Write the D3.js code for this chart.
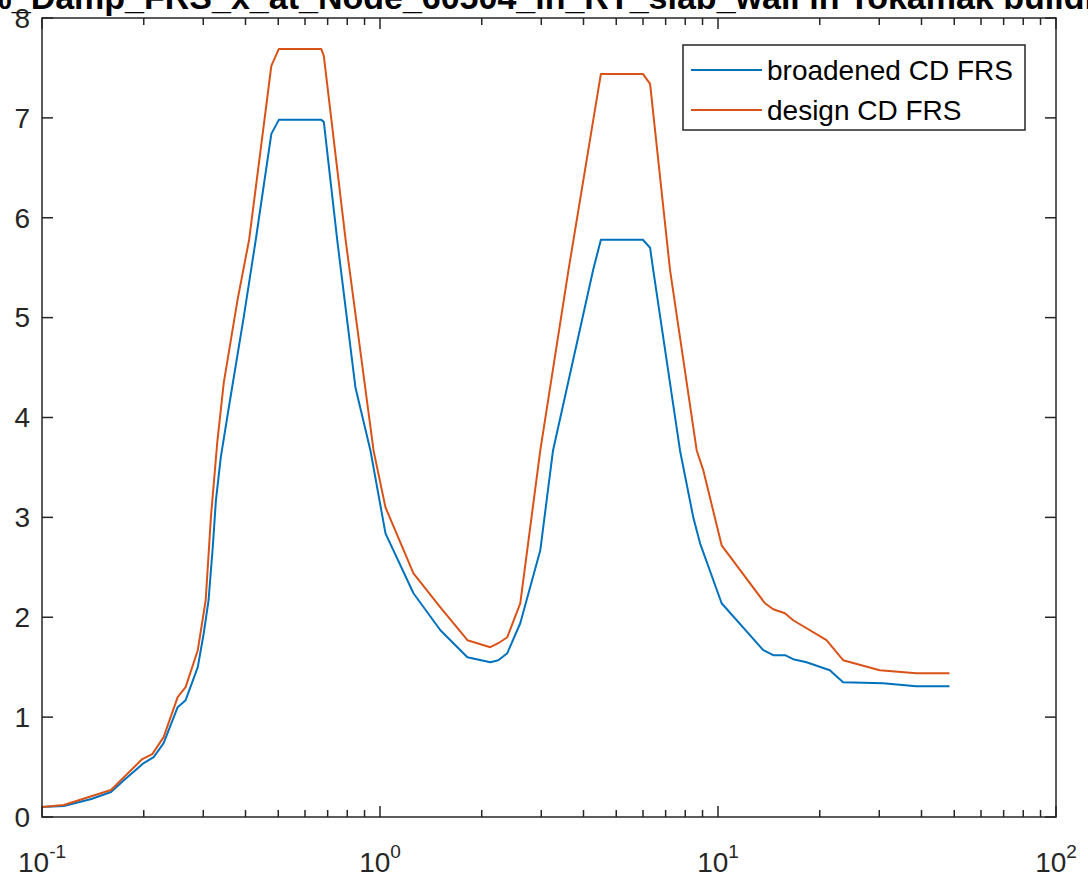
<!DOCTYPE html>
<html>
<head>
<meta charset="utf-8">
<script src="https://cdn.jsdelivr.net/npm/d3@7"></script>
<style>
  html, body { margin: 0; padding: 0; background: #fff; }
  svg { display: block; font-family: "Liberation Sans", Arial, Helvetica, sans-serif; }
</style>
</head>
<body>
<svg id="chart" width="1088" height="881"></svg>
<script>
// ---------- data ----------
const titleText = "5%_Damp_FRS_x_at_Node_60504_in_RT_slab_wall in Tokamak building";
const seriesNames = ["broadened CD FRS", "design CD FRS"];
const seriesColors = ["#0072BD", "#D95319"];

const freqBroadened = [0.100, 0.116, 0.140, 0.160, 0.175, 0.200, 0.214, 0.229, 0.252, 0.266, 0.289, 0.301, 0.311, 0.320, 0.327, 0.338, 0.357, 0.395, 0.429, 0.477, 0.502, 0.670, 0.682, 0.747, 0.846, 0.937, 1.038, 1.256, 1.509, 1.814, 2.120, 2.239, 2.380, 2.600, 2.980, 3.250, 4.273, 4.503, 5.994, 6.296, 6.430, 7.720, 8.450, 8.850, 10.25, 13.61, 14.57, 15.78, 16.69, 18.28, 21.42, 23.45, 30.77, 38.6, 48.4];
const valBroadened  = [0.10, 0.11, 0.18, 0.25, 0.37, 0.54, 0.60, 0.74, 1.10, 1.17, 1.50, 1.84, 2.17, 2.70, 3.17, 3.60, 4.10, 5.00, 5.78, 6.84, 6.98, 6.98, 6.96, 5.78, 4.30, 3.67, 2.84, 2.24, 1.87, 1.60, 1.55, 1.57, 1.64, 1.94, 2.67, 3.67, 5.48, 5.78, 5.78, 5.70, 5.48, 3.67, 3.00, 2.74, 2.14, 1.67, 1.62, 1.62, 1.58, 1.55, 1.47, 1.35, 1.34, 1.31, 1.31];

const freqDesign = [0.100, 0.116, 0.160, 0.198, 0.212, 0.229, 0.252, 0.266, 0.289, 0.305, 0.316, 0.330, 0.345, 0.379, 0.410, 0.477, 0.502, 0.670, 0.682, 0.791, 0.957, 1.038, 1.256, 1.509, 1.814, 2.120, 2.239, 2.380, 2.600, 2.980, 3.613, 4.503, 5.994, 6.296, 7.210, 8.650, 9.050, 10.25, 13.77, 14.57, 15.78, 16.69, 20.94, 23.45, 30.1, 38.6, 48.4];
const valDesign  = [0.10, 0.12, 0.27, 0.58, 0.63, 0.80, 1.20, 1.30, 1.67, 2.17, 3.00, 3.75, 4.35, 5.18, 5.78, 7.52, 7.69, 7.69, 7.62, 5.78, 3.67, 3.10, 2.44, 2.10, 1.77, 1.70, 1.74, 1.80, 2.14, 3.67, 5.48, 7.44, 7.44, 7.34, 5.48, 3.67, 3.47, 2.72, 2.14, 2.08, 2.04, 1.97, 1.77, 1.57, 1.47, 1.44, 1.44];

const xDomain = [0.1, 100];
const yDomain = [0, 8];
const xTickExponents = [-1, 0, 1, 2];
const yTickLabels = [0, 1, 2, 3, 4, 5, 6, 7, 8];

// ---------- layout ----------
const svg = d3.select("#chart");
const L = 42, R = 1056, T = 18, B = 817;
const axisColor = "#262626";

const x = d3.scaleLog().domain(xDomain).range([L, R]);
const y = d3.scaleLinear().domain(yDomain).range([B, T]);

svg.append("rect").attr("x", 0).attr("y", 0).attr("width", 1088).attr("height", 881).attr("fill", "#fff");

// title (partly above the top of the canvas, as in the reference)
svg.append("text")
  .attr("x", (L + R) / 2).attr("y", 9)
  .attr("text-anchor", "middle")
  .attr("font-size", 34).attr("font-weight", "bold")
  .attr("fill", "#000")
  .text(titleText);

// lines
const series = [
  freqBroadened.map((f, i) => ({ f, v: valBroadened[i] })),
  freqDesign.map((f, i) => ({ f, v: valDesign[i] }))
];
const line = d3.line().x(d => x(d.f)).y(d => y(d.v));
const gLines = svg.append("g");
series.forEach((s, i) => {
  gLines.append("path")
    .datum(s)
    .attr("d", line)
    .attr("fill", "none")
    .attr("stroke", seriesColors[i])
    .attr("stroke-width", 2)
    .attr("stroke-linejoin", "round");
});

// axes box
const gAx = svg.append("g").attr("stroke", axisColor).attr("stroke-width", 1.5);
gAx.append("rect").attr("x", L).attr("y", T).attr("width", R - L).attr("height", B - T).attr("fill", "none");

// x ticks (inward, bottom & top)
const majLen = 11, minLen = 7;
x.ticks().forEach(t => {
  const isMajor = Math.abs(Math.log10(t) - Math.round(Math.log10(t))) < 1e-9;
  const len = isMajor ? majLen : minLen;
  const px = x(t);
  gAx.append("line").attr("x1", px).attr("x2", px).attr("y1", B).attr("y2", B - len);
  gAx.append("line").attr("x1", px).attr("x2", px).attr("y1", T).attr("y2", T + len);
});
// y ticks (inward, left & right)
yTickLabels.forEach(t => {
  const py = y(t);
  gAx.append("line").attr("x1", L).attr("x2", L + majLen).attr("y1", py).attr("y2", py);
  gAx.append("line").attr("x1", R).attr("x2", R - majLen).attr("y1", py).attr("y2", py);
});

// x tick labels 10^n
xTickExponents.forEach(e => {
  const t = svg.append("text")
    .attr("x", x(Math.pow(10, e))).attr("y", 872)
    .attr("text-anchor", "middle")
    .attr("font-size", 28).attr("fill", axisColor);
  t.append("tspan").text("10");
  t.append("tspan").attr("dy", -14).attr("font-size", 19).text(String(e));
});

// y tick labels
yTickLabels.forEach(v => {
  svg.append("text")
    .attr("x", 30).attr("y", y(v))
    .attr("dy", "0.35em")
    .attr("text-anchor", "end")
    .attr("font-size", 28).attr("fill", axisColor)
    .text(v);
});

// legend
const lg = svg.append("g");
lg.append("rect").attr("x", 683).attr("y", 45).attr("width", 342).attr("height", 85)
  .attr("fill", "#fff").attr("stroke", axisColor).attr("stroke-width", 1.5);
seriesNames.forEach((name, i) => {
  const ly = 70 + i * 40;
  lg.append("line").attr("x1", 691).attr("x2", 762).attr("y1", ly).attr("y2", ly)
    .attr("stroke", seriesColors[i]).attr("stroke-width", 2);
  lg.append("text").attr("x", 767).attr("y", ly).attr("dy", "0.35em")
    .attr("font-size", 28).attr("fill", "#000").text(name);
});
</script>
</body>
</html>
